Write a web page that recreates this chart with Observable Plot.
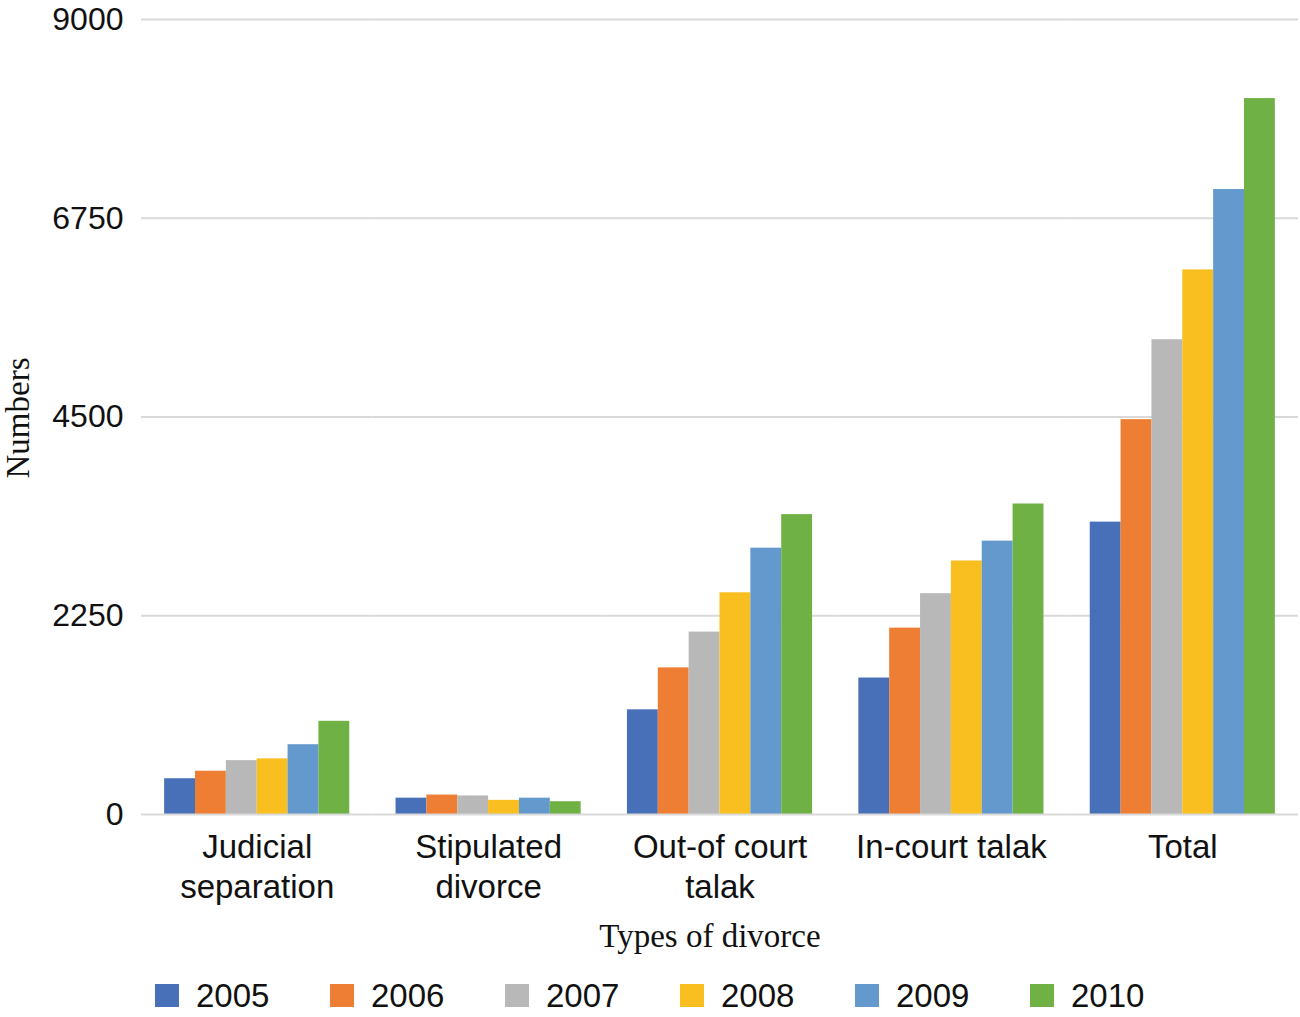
<!DOCTYPE html>
<html>
<head>
<meta charset="utf-8">
<script src="https://cdn.jsdelivr.net/npm/d3@7"></script>
<script src="https://cdn.jsdelivr.net/npm/@observablehq/plot@0.6"></script>
<style>
  body { margin: 0; background: #fff; }
  #wrap { position: relative; width: 1300px; height: 1017px; overflow: hidden; background: #fff;
          font-family: "Liberation Sans", Arial, sans-serif; color: #111; }
  #chart svg { display: block; }
  .ytitle { position: absolute; left: 18px; top: 418px; transform: translate(-50%, -50%) rotate(-90deg);
            font-family: "Liberation Serif", "Times New Roman", serif; font-size: 33px; white-space: nowrap; line-height: 1; }
  .xtitle { position: absolute; left: 710px; top: 936px; transform: translate(-50%, -50%);
            font-family: "Liberation Serif", "Times New Roman", serif; font-size: 33px; white-space: nowrap; line-height: 1; }
  #legend { position: absolute; left: 155px; top: 977px; display: flex; align-items: center; height: 36px; }
  .item { display: flex; align-items: center; width: 175px; font-size: 33px; line-height: 1; }
  .sw { width: 24px; height: 23px; margin-right: 17px; flex: none; }
</style>
</head>
<body>
<div id="wrap">
  <div id="chart"></div>
  <div class="ytitle">Numbers</div>
  <div class="xtitle">Types of divorce</div>
  <div id="legend"></div>
</div>
<script>
const categories = ["Judicial separation", "Stipulated divorce", "Out-of court talak", "In-court talak", "Total"];
const categoryLabels = ["Judicial\nseparation", "Stipulated\ndivorce", "Out-of court\ntalak", "In-court talak", "Total"];
const years = ["2005", "2006", "2007", "2008", "2009", "2010"];
const colors = ["#4870B8", "#EE7E33", "#B8B8B8", "#F9BE1F", "#6399CC", "#70B145"];
const yTicks = [0, 2250, 4500, 6750, 9000];

// values per year, in the order of categories
const v2005 = [405, 185, 1185, 1545, 3310];
const v2006 = [490, 220, 1660, 2110, 4470];
const v2007 = [610, 210, 2065, 2500, 5375];
const v2008 = [630, 160, 2510, 2870, 6165];
const v2009 = [790, 185, 3015, 3095, 7075];
const v2010 = [1055, 145, 3395, 3515, 8105];
const series = [v2005, v2006, v2007, v2008, v2009, v2010];

const rows = [];
categories.forEach((c, i) => years.forEach((y, j) => rows.push({category: c, year: y, value: series[j][i]})));

const plot = Plot.plot({
  width: 1300,
  height: 960,
  marginLeft: 141,
  marginRight: 2,
  marginTop: 19,
  marginBottom: 146,
  style: {background: "#fff", fontFamily: "'Liberation Sans', Arial, sans-serif", overflow: "visible", color: "#111"},
  fx: {domain: categories, padding: 0, round: false, label: null},
  x: {domain: years, paddingInner: 0, paddingOuter: 0.75, round: false, axis: null},
  y: {domain: [0, 9000], label: null},
  color: {domain: years, range: colors},
  marks: [
    Plot.gridY(yTicks.slice(1), {stroke: "#d9d9d9", strokeOpacity: 1, strokeWidth: 2}),
    Plot.barY(rows, {fx: "category", x: "year", y: "value", fill: "year"}),
    Plot.ruleY([0], {stroke: "#d9d9d9", strokeWidth: 2}),
    Plot.axisY(yTicks, {facetAnchor: "left", tickSize: 0, tickPadding: 18, fontSize: 32, fill: "#111", label: null,
                        tickFormat: d => String(d)}),
    Plot.axisFx({anchor: "bottom", tickSize: 0, tickPadding: 15, fontSize: 33, lineHeight: 1.21, fill: "#111", label: null,
                 tickFormat: c => categoryLabels[categories.indexOf(c)]})
  ]
});
document.getElementById("chart").appendChild(plot);

const legend = document.getElementById("legend");
years.forEach((y, j) => {
  const it = document.createElement("div");
  it.className = "item";
  const sw = document.createElement("span");
  sw.className = "sw";
  sw.style.background = colors[j];
  const tx = document.createElement("span");
  tx.textContent = y;
  it.appendChild(sw);
  it.appendChild(tx);
  legend.appendChild(it);
});
</script>
</body>
</html>
